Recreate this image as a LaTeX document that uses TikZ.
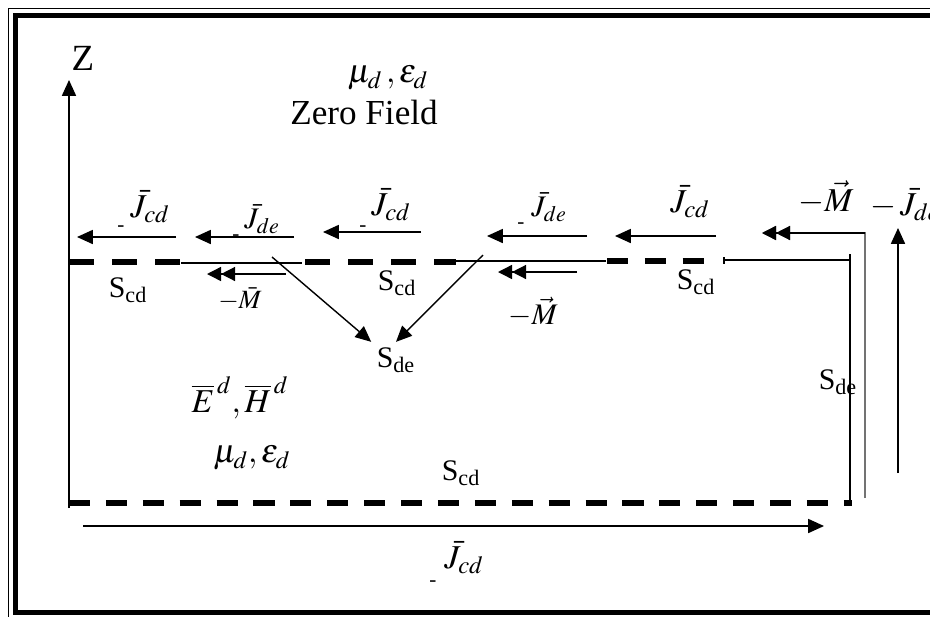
\documentclass[tikz,border=0pt]{standalone}
\usepackage{mathptmx}
\usepackage[no-math]{fontspec}
\setmainfont{Liberation Serif}
\usetikzlibrary{arrows.meta}
\tikzset{
  curr/.style={-{Triangle[length=9pt,width=8pt]}, line width=0.8pt},
  mcurr/.style={-{Triangle[length=8pt,width=8pt] Triangle[length=8pt,width=8pt]}, line width=0.8pt},
  pec/.style={line width=3.2pt, dash pattern=on 14pt off 10.5pt},
  pecb/.style={line width=3.2pt, dash pattern=on 12pt off 9pt},
  pmc/.style={line width=0.8pt},
  lblL/.style={inner sep=0pt, font=\fontsize{19}{21}\selectfont},
  lblM/.style={inner sep=0pt, font=\fontsize{17}{19}\selectfont},
  lblS/.style={inner sep=0pt, font=\fontsize{17}{19}\selectfont},
  dashmark/.style={inner sep=0pt, font=\fontsize{12}{12}\selectfont}
}
\begin{document}
\begin{tikzpicture}[x=0.02cm,y=-0.02cm]
\useasboundingbox (0,0) rectangle (930,616);
\clip (0,0) rectangle (930,616);
\draw[line width=1.1pt] (8.5,8.5) rectangle (960,630);
\draw[line width=3.2pt] (15.5,15.5) rectangle (950,612.5);
\coordinate (zbot) at (69,508);
\coordinate (ztop) at (69,80);
\draw[curr] (zbot) -- (ztop);
\node[lblL, font=\fontsize{21}{23}\selectfont] (zlab) at (83,58) {Z};
\node[lblL] (medtop) at (388,78) {$\mu_d\,,\varepsilon_d$};
\node[lblL, font=\fontsize{20}{22}\selectfont] (zero) at (364,112) {Zero Field};
\draw[pec] (69,262) -- (181,262);
\draw[pmc] (181,263) -- (302,263);
\draw[pec] (305,262) -- (456,262);
\draw[pmc] (456,261) -- (606,261);
\draw[pec, dash pattern=on 12pt off 9.5pt] (607,261) -- (706,261);
\draw[pmc] (724,257) -- (724,264);
\draw[pmc] (724,260) -- (850,260);
\draw[pmc] (850,254) -- (850,503);
\draw[pecb] (69,503) -- (852,503);
\coordinate (c1s) at (176,237);
\coordinate (c1e) at (77,237);
\coordinate (c2s) at (294,237);
\coordinate (c2e) at (195,237);
\coordinate (c3s) at (421,232);
\coordinate (c3e) at (323,232);
\coordinate (c4s) at (587,236);
\coordinate (c4e) at (487,236);
\coordinate (c5s) at (716,236);
\coordinate (c5e) at (615,236);
\draw[curr] (c1s) -- (c1e);
\draw[curr] (c2s) -- (c2e);
\draw[curr] (c3s) -- (c3e);
\draw[curr] (c4s) -- (c4e);
\draw[curr] (c5s) -- (c5e);
\node[lblL] (j1) at (150,207) {$\bar{J}_{cd}$};
\node[dashmark] (j1m) at (121,229) {-};
\node[lblM] (j2) at (262,219) {$\bar{J}_{de}$};
\node[dashmark] (j2m) at (236,238) {-};
\node[lblL] (j3) at (391,205) {$\bar{J}_{cd}$};
\node[dashmark] (j3m) at (363,229) {-};
\node[lblM] (j4) at (549,207) {$\bar{J}_{de}$};
\node[dashmark] (j4m) at (521,226) {-};
\node[lblL] (j5) at (690,202) {$\bar{J}_{cd}$};
\coordinate (m1s) at (286,274);
\coordinate (m1e) at (207,274);
\coordinate (m2s) at (577,272);
\coordinate (m2e) at (498,272);
\draw[mcurr] (m1s) -- (m1e);
\draw[mcurr] (m2s) -- (m2e);
\node[lblM, font=\fontsize{15}{17}\selectfont] (m1) at (240,299) {$-\bar{M}$};
\node[lblM] (m2) at (533,312) {$-\vec{M}$};
\coordinate (mwb) at (865,498);
\coordinate (mwc) at (865,233);
\coordinate (mwe) at (762,233);
\draw[mcurr, draw=black!55] (mwb) -- (mwc) -- (mwe);
\draw[mcurr] (mwc) -- (mwe);
\node[lblL] (m3) at (826,197) {$-\vec{M}$};
\node[lblL] (j6) at (905,205) {$-\,\bar{J}_{de}$};
\coordinate (jwb) at (898,473);
\coordinate (jwt) at (898,228);
\draw[curr] (jwb) -- (jwt);
\node[lblS] (s1) at (128,290) {S\textsubscript{cd}};
\node[lblS] (s2) at (397,283) {S\textsubscript{cd}};
\node[lblS] (s3) at (696,282) {S\textsubscript{cd}};
\node[lblS, inner sep=3pt] (sde) at (396,360) {S\textsubscript{de}};
\coordinate (d1) at (272,257);
\coordinate (d2) at (483,255);
\draw[curr] (d1) -- (sde.north west);
\draw[curr] (d2) -- (sde.north);
\node[lblL] (fld) at (240,398) {$\overline{E}^{\,d},\overline{H}^{\,d}$};
\node[lblL] (medlow) at (252,458) {$\mu_d,\varepsilon_d$};
\node[lblS] (s4) at (461,473) {S\textsubscript{cd}};
\node[lblS] (sder) at (838,382) {S\textsubscript{de}};
\coordinate (jbs) at (83,526);
\coordinate (jbe) at (824,526);
\draw[curr] (jbs) -- (jbe);
\node[lblL] (jb) at (464,558) {$\bar{J}_{cd}$};
\node[dashmark] (jbm) at (433,584) {-};
\end{tikzpicture}
\end{document}
